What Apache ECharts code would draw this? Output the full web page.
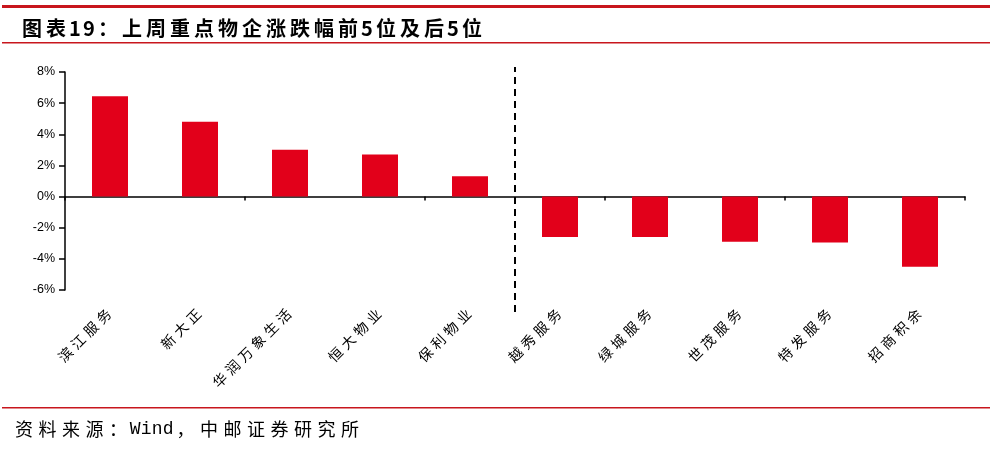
<!DOCTYPE html>
<html>
<head>
<meta charset="utf-8">
<script src="https://cdn.jsdelivr.net/npm/echarts@6/dist/echarts.min.js"></script>
<style>html,body{margin:0;padding:0;background:#fff;}#c{width:990px;height:455px;}</style>
</head>
<body>
<div id="c"></div>
<script>
var categories = ['滨江服务', '新大正', '华润万象生活', '恒大物业', '保利物业', '越秀服务', '绿城服务', '世茂服务', '特发服务', '招商积余'];
var changes = [6.45, 4.8, 3.0, 2.7, 1.3, -2.6, -2.6, -2.9, -2.95, -4.5];
var yTicks = { min: -6, max: 8, interval: 2 };
var dividerX = [5, 5];
var dividerY = [0, 1];
var titleText = '图表19：上周重点物企涨跌幅前5位及后5位';
var sourceText = '资料来源：Wind，中邮证券研究所';

function richify(str, cjk, lat) {
  return str.split('').map(function (ch) {
    return /[\x20-\x7e]/.test(ch) ? '{' + lat + '|' + ch + '}' : '{' + cjk + '|' + ch + '}';
  }).join('');
}

var chart = echarts.init(document.getElementById('c'), null, { renderer: 'canvas' });
var red = '#C8161D';
var cjkFont = 'Noto Sans CJK SC';
chart.setOption({
  animation: false,
  backgroundColor: '#fff',
  title: {
    text: richify(titleText, 'w', 'n'),
    left: 15, top: 13,
    textStyle: {
      fontFamily: cjkFont, fontSize: 20, fontWeight: 'bold', color: '#000',
      rich: {
        w: { width: 24, align: 'center', fontFamily: cjkFont, fontSize: 20, fontWeight: 'bold', color: '#000' },
        n: { width: 14, align: 'center', fontFamily: cjkFont, fontSize: 20, fontWeight: 'bold', color: '#000' }
      }
    }
  },
  graphic: [
    { type: 'rect', shape: { x: 2, y: 5, width: 988, height: 3 }, style: { fill: red } },
    { type: 'rect', shape: { x: 2, y: 42, width: 988, height: 1.5 }, style: { fill: red } },
    { type: 'rect', shape: { x: 2, y: 407, width: 988, height: 1.5 }, style: { fill: red } },
    {
      type: 'text', left: 15, top: 420,
      style: {
        text: richify(sourceText, 'w', 'n'),
        fontFamily: cjkFont, fontSize: 18, fill: '#000',
        rich: {
          w: { width: 23.5, align: 'center', fontFamily: cjkFont, fontSize: 18, color: '#000' },
          n: { width: 11, align: 'center', fontFamily: 'Liberation Mono', fontSize: 18, color: '#000' }
        }
      }
    }
  ],
  grid: [
    { left: 65, right: 25, top: 72, bottom: 165 },
    { left: 65, right: 25, top: 67, bottom: 143 }
  ],
  xAxis: [
    {
      type: 'category', gridIndex: 0, data: categories, position: 'bottom',
      axisLine: { show: false, onZero: false }, axisTick: { show: false },
      axisLabel: {
        rotate: 45, margin: 20, interval: 0, fontFamily: cjkFont, fontSize: 14, color: '#000',
        formatter: function (v) { return richify(v, 'c', 'c'); },
        rich: { c: { width: 18, align: 'center', fontFamily: cjkFont, fontSize: 14, color: '#000' } }
      }
    },
    {
      type: 'category', gridIndex: 0, data: categories, position: 'top',
      axisLine: { show: true, onZero: true, lineStyle: { color: '#000', width: 1.5 } },
      axisTick: { show: true, inside: true, length: 4, lineStyle: { color: '#000', width: 1.5 } },
      axisLabel: { show: false }
    },
    { type: 'value', gridIndex: 1, min: 0, max: 10, show: false }
  ],
  yAxis: [
    {
      type: 'value', gridIndex: 0, min: yTicks.min, max: yTicks.max, interval: yTicks.interval,
      axisLine: { show: true, lineStyle: { color: '#000', width: 1.5 } },
      axisTick: { show: true, length: 6, lineStyle: { color: '#000', width: 1.5 } },
      splitLine: { show: false },
      axisLabel: { formatter: '{value}%', margin: 10, fontFamily: 'Liberation Sans', fontSize: 12.5, color: '#000' }
    },
    { type: 'value', gridIndex: 1, min: 0, max: 1, show: false }
  ],
  series: [
    {
      type: 'bar', xAxisIndex: 0, yAxisIndex: 0, data: changes, barWidth: 36,
      itemStyle: { color: '#E2001A' }
    },
    {
      type: 'line', xAxisIndex: 2, yAxisIndex: 1, symbol: 'none',
      data: dividerX.map(function (x, i) { return [x, dividerY[i]]; }),
      lineStyle: { color: '#000', width: 2, type: [7, 5] }
    }
  ]
});
</script>
</body>
</html>
